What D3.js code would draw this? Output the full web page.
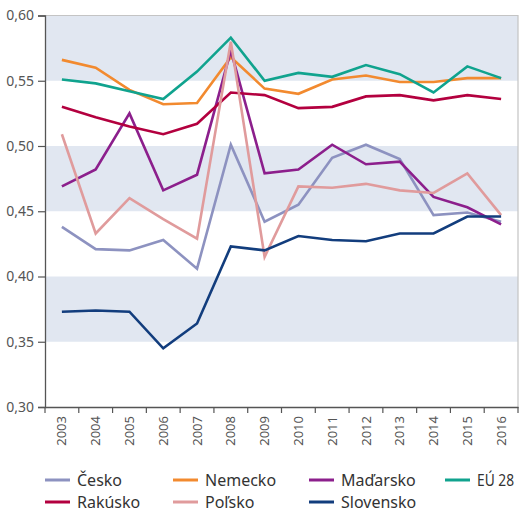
<!DOCTYPE html>
<html><head><meta charset="utf-8">
<script src="https://cdn.jsdelivr.net/npm/d3@7"></script>
<style>body{margin:0;background:#fff}svg{display:block}</style>
</head><body><svg id="c" width="520" height="514"></svg>
<script>
const years = ["2003","2004","2005","2006","2007","2008","2009","2010","2011","2012","2013","2014","2015","2016"];
const yTicks = [0.30,0.35,0.40,0.45,0.50,0.55,0.60];
const seriesNames = ["Česko","Nemecko","Maďarsko","EÚ 28","Rakúsko","Poľsko","Slovensko"];
const seriesColors = ["#8d92c0","#f28a2f","#8c1f8c","#10a38e","#b3003f","#e09b9c","#123d7d"];
const cesko     = [0.438,0.421,0.420,0.428,0.406,0.501,0.442,0.455,0.491,0.501,0.490,0.447,0.449,0.442];
const nemecko   = [0.566,0.560,0.543,0.532,0.533,0.568,0.544,0.540,0.551,0.554,0.549,0.549,0.552,0.552];
const madarsko  = [0.469,0.482,0.525,0.466,0.478,0.573,0.479,0.482,0.501,0.486,0.488,0.461,0.453,0.440];
const eu28      = [0.551,0.548,0.542,0.536,0.557,0.583,0.550,0.556,0.553,0.562,0.555,0.541,0.561,0.552];
const rakusko   = [0.530,0.522,0.515,0.509,0.517,0.541,0.539,0.529,0.530,0.538,0.539,0.535,0.539,0.536];
const polsko    = [0.509,0.433,0.460,0.444,0.429,0.580,0.415,0.469,0.468,0.471,0.466,0.464,0.479,0.447];
const slovensko = [0.373,0.374,0.373,0.345,0.364,0.423,0.420,0.431,0.428,0.427,0.433,0.433,0.446,0.446];
const seriesValues = [cesko,nemecko,madarsko,eu28,rakusko,polsko,slovensko];
const drawOrder = [0,1,2,3,4,5,6];

const svg = d3.select("#c");
const L=45, R=518, T=15.5, B=407;
const x = d3.scaleBand().domain(years).range([L,R]);
const y = d3.scaleLinear().domain([0.30,0.60]).range([B,T]);
const font = "'Noto Sans', 'Open Sans', sans-serif";

// shaded bands
const bands = [[0.35,0.40],[0.45,0.50],[0.55,0.60]];
svg.append("g").selectAll("rect").data(bands).join("rect")
  .attr("x",L).attr("width",R-L)
  .attr("y",d=>y(d[1])).attr("height",d=>y(d[0])-y(d[1]))
  .attr("fill","#e1e7f1");

// frame top & right
svg.append("path").attr("d",`M${L},${T}H${R}V${B}`).attr("fill","none").attr("stroke","#c4c4c4").attr("stroke-width",1.2);

// lines
const line = d3.line().x((d,i)=>x(years[i])+x.bandwidth()/2).y(d=>y(d));
const lg = svg.append("g");
drawOrder.forEach(k=>{
  lg.append("path").attr("d",line(seriesValues[k])).attr("fill","none")
    .attr("stroke",seriesColors[k]).attr("stroke-width",2.6).attr("stroke-linejoin","miter");
});

// y axis
const ya = svg.append("g").attr("transform",`translate(${L},0)`)
  .call(d3.axisLeft(y).tickValues(yTicks).tickSize(7).tickPadding(4).tickFormat(d=>d3.format(".2f")(d).replace(".",",")));
ya.select(".domain").attr("stroke","#555").attr("stroke-width",1.3);
ya.selectAll(".tick line").attr("stroke","#555").attr("stroke-width",1.2);
ya.selectAll("text").attr("font-family",font).attr("font-size",14).attr("fill","#555");

// x axis
const xa = svg.append("g").attr("transform",`translate(0,${B})`)
  .call(d3.axisBottom(x).tickSize(0));
xa.select(".domain").attr("stroke","#555").attr("stroke-width",1.3);
xa.selectAll(".tick text").attr("font-family",font).attr("font-size",13).attr("fill","#555")
  .attr("transform","rotate(-90)").attr("text-anchor","end").attr("dy","0.35em").attr("x",-9).attr("y",0);
const edges = years.map(d=>x(d)).concat([R]);
svg.append("g").selectAll("line").data(edges).join("line")
  .attr("x1",d=>d).attr("x2",d=>d).attr("y1",B).attr("y2",B+6).attr("stroke","#555").attr("stroke-width",1.2);

// legend
const legendPos = [[45,480],[173,480],[309,480],[445,480],[45,502],[173,502],[309,502]];
const leg = svg.append("g");
seriesNames.forEach((n,i)=>{
  const [lx,ly] = legendPos[i];
  leg.append("line").attr("x1",lx).attr("x2",lx+25).attr("y1",ly).attr("y2",ly)
    .attr("stroke",seriesColors[i]).attr("stroke-width",3);
  const t = leg.append("text").attr("x",lx+32).attr("y",ly).attr("dy","0.35em")
    .attr("font-family",font).attr("font-size",16).attr("fill","#333").text(n);
  const w = t.node().getComputedTextLength();
  if (lx+32+w > 514) t.attr("textLength",514-lx-32).attr("lengthAdjust","spacingAndGlyphs");
});
</script></body></html>
